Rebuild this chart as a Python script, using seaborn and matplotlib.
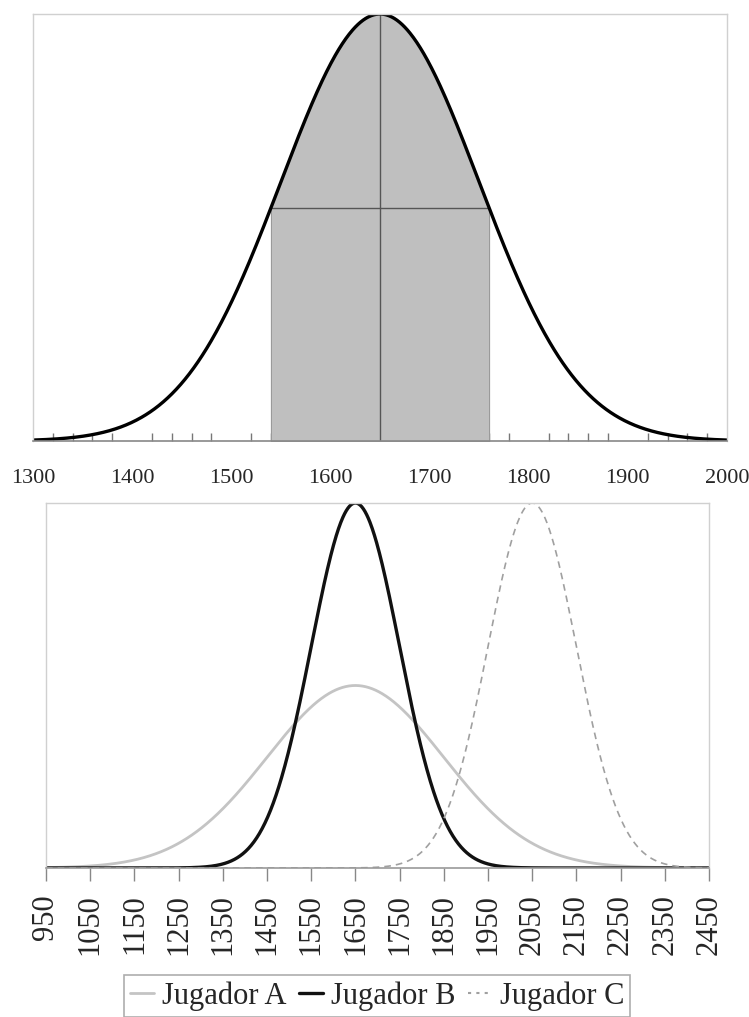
import numpy as np
import pandas as pd
import matplotlib
matplotlib.use("Agg")
import matplotlib.pyplot as plt
from matplotlib.lines import Line2D
import seaborn as sns

sns.set_theme(style="white", context="notebook")
plt.rcParams['font.family'] = ['Liberation Serif', 'DejaVu Serif']

# top chart: one rating distribution, shaded band around the mean
top_mean = 1650
top_sd = 100
band = [1540, 1760]
top_ticks = [1300, 1400, 1500, 1600, 1700, 1800, 1900, 2000]

# bottom chart: three players
players = ['Jugador A', 'Jugador B', 'Jugador C']
means = [1650, 1650, 2050]
sds = [200, 100, 100]
bottom_ticks = [950, 1050, 1150, 1250, 1350, 1450, 1550, 1650, 1750, 1850,
                1950, 2050, 2150, 2250, 2350, 2450]


def pdf(x, m, s):
    return np.exp(-0.5 * ((x - m) / s) ** 2) / (s * np.sqrt(2 * np.pi))


fig = plt.figure(figsize=(7.49, 10.17), dpi=100)

# ---------- top ----------
ax1 = fig.add_axes([33 / 749, 1 - 441 / 1017, 694 / 749, 427 / 1017])
xs = np.linspace(top_ticks[0], top_ticks[-1], 800)
top_df = pd.DataFrame({'x': xs, 'y': pdf(xs, top_mean, top_sd)})
xb = np.linspace(band[0], band[1], 300)
ax1.fill_between(xb, 0, pdf(xb, top_mean, top_sd), color='#bfbfbf', lw=0.8, edgecolor='#9a9a9a')
peak = pdf(top_mean, top_mean, top_sd)
hline = pdf(band[0], top_mean, top_sd)
ax1.plot([top_mean, top_mean], [0, peak], color='#555555', lw=1)
ax1.plot(band, [hline, hline], color='#555555', lw=1)
sns.lineplot(data=top_df, x='x', y='y', color='black', lw=2.4, ax=ax1)
ax1.set_xlim(top_ticks[0], top_ticks[-1])
ax1.set_ylim(0, peak)
ax1.set_xticks(top_ticks)
ax1.set_xticks(np.arange(top_ticks[0], top_ticks[-1] + 1, 20), minor=True)
ax1.set_yticks([])
ax1.set_xlabel('')
ax1.set_ylabel('')
ax1.tick_params(axis='x', which='major', direction='inout', length=12, width=1,
                color='#777777', labelsize=16, pad=14)
ax1.tick_params(axis='x', which='minor', direction='in', length=6, width=1,
                color='#777777', bottom=True)
for s in ['top', 'left', 'right']:
    ax1.spines[s].set_color('#d0d0d0')
    ax1.spines[s].set_linewidth(1)
ax1.spines['bottom'].set_color('#888888')
ax1.spines['bottom'].set_linewidth(1.2)

# ---------- bottom ----------
ax2 = fig.add_axes([46 / 749, 1 - 868 / 1017, 663 / 749, 365 / 1017])
xs2 = np.linspace(bottom_ticks[0], bottom_ticks[-1], 1200)
rows = []
for name, m, s in zip(players, means, sds):
    rows.append(pd.DataFrame({'x': xs2, 'y': pdf(xs2, m, s), 'player': name}))
bottom_df = pd.concat(rows)
palette = {'Jugador A': '#c4c4c4', 'Jugador B': '#111111', 'Jugador C': '#a0a0a0'}
widths = {'Jugador A': 2.0, 'Jugador B': 2.4, 'Jugador C': 1.2}
styles = {'Jugador A': '-', 'Jugador B': '-', 'Jugador C': (0, (4, 3))}
for name in players:
    sns.lineplot(data=bottom_df[bottom_df.player == name], x='x', y='y',
                 color=palette[name], lw=widths[name], linestyle=styles[name],
                 ax=ax2, label=name, legend=False)
ax2.set_xlim(bottom_ticks[0], bottom_ticks[-1])
ax2.set_ylim(0, pdf(0, 0, 100))
ax2.set_xticks(bottom_ticks)
ax2.set_xticklabels([str(t) for t in bottom_ticks], rotation=90)
ax2.set_yticks([])
ax2.set_xlabel('')
ax2.set_ylabel('')
ax2.tick_params(axis='x', direction='out', length=9, width=1, color='#888888',
                labelsize=22, pad=10, bottom=True)
for s in ['top', 'left', 'right']:
    ax2.spines[s].set_color('#d0d0d0')
    ax2.spines[s].set_linewidth(1)
ax2.spines['bottom'].set_color('#999999')
ax2.spines['bottom'].set_linewidth(1.2)

handles = [Line2D([], [], color='#c4c4c4', lw=2),
           Line2D([], [], color='#111111', lw=2.4),
           Line2D([], [], color='#a0a0a0', lw=1.5, linestyle=(0, (1.5, 2.5)))]
leg = fig.legend(handles, players, loc='upper center', ncol=3,
                 bbox_to_anchor=(377 / 749, 1 - 975 / 1017), fontsize=22,
                 frameon=True, fancybox=False, handlelength=0.8,
                 handletextpad=0.25, columnspacing=0.4, borderpad=0.2,
                 borderaxespad=0)
leg.get_frame().set_edgecolor('#999999')
leg.get_frame().set_linewidth(1.2)

fig.savefig('out.png', dpi=100)
